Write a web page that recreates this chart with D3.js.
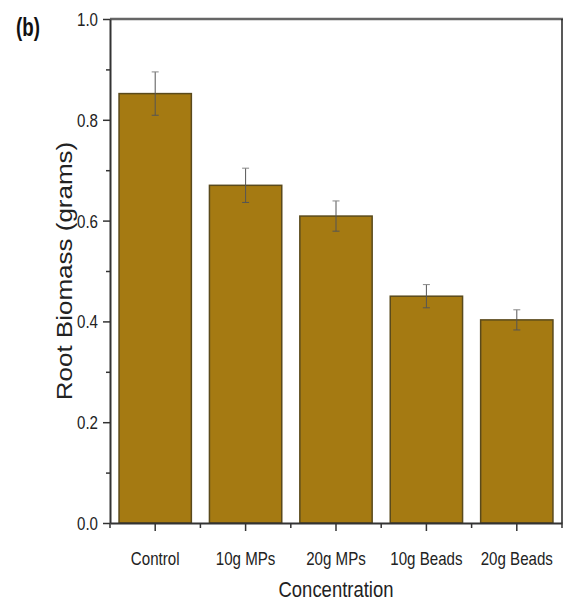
<!DOCTYPE html>
<html>
<head>
<meta charset="utf-8">
<script src="https://cdn.jsdelivr.net/npm/d3@7"></script>
<style>
  html, body { margin: 0; padding: 0; background: #fff; }
  svg { display: block; font-family: "Liberation Sans", Arial, sans-serif; }
</style>
</head>
<body>
<svg id="chart" width="568" height="605"></svg>
<script>
// Root biomass per treatment, mean and error
const categories = ["Control", "10g MPs", "20g MPs", "10g Beads", "20g Beads"];
const biomass = [0.852, 0.670, 0.609, 0.450, 0.403];
const errors = [0.043, 0.034, 0.030, 0.023, 0.020];
const yMajorTicks = [0.0, 0.2, 0.4, 0.6, 0.8, 1.0];
const yMinorTicks = [0.1, 0.3, 0.5, 0.7, 0.9];

const svg = d3.select("#chart");
const plotLeft = 110, plotRight = 562, plotTop = 19, plotBottom = 523;
const squeeze = 0.84;
const fontFamily = '"Liberation Sans", Arial, sans-serif';

const x = d3.scaleBand().domain(categories).range([plotLeft, plotRight])
  .paddingInner(0.2).paddingOuter(0.1);
const y = d3.scaleLinear().domain([0, 1]).range([plotBottom, plotTop]);

// bars
svg.append("g").selectAll("rect")
  .data(categories)
  .join("rect")
  .attr("x", d => x(d))
  .attr("y", (d, i) => y(biomass[i]))
  .attr("width", x.bandwidth())
  .attr("height", (d, i) => y(0) - y(biomass[i]))
  .attr("fill", "#A57A12")
  .attr("stroke", "#5a4a1c")
  .attr("stroke-width", 1.5);

// error bars
const eb = svg.append("g").attr("stroke", "#555").attr("stroke-width", 1);
categories.forEach((c, i) => {
  const cx = x(c) + x.bandwidth() / 2;
  const hi = y(biomass[i] + errors[i]);
  const lo = y(biomass[i] - errors[i]);
  eb.append("line").attr("x1", cx).attr("x2", cx).attr("y1", hi).attr("y2", lo);
  eb.append("line").attr("x1", cx - 3.5).attr("x2", cx + 3.5).attr("y1", hi).attr("y2", hi).attr("stroke", "#888");
  eb.append("line").attr("x1", cx - 3.5).attr("x2", cx + 3.5).attr("y1", lo).attr("y2", lo);
});

// frame: top and right edges
svg.append("line").attr("x1", plotLeft).attr("x2", plotRight + 1).attr("y1", plotTop).attr("y2", plotTop)
  .attr("stroke", "#666").attr("stroke-width", 2.5);
svg.append("line").attr("x1", plotRight).attr("x2", plotRight).attr("y1", plotTop).attr("y2", plotBottom)
  .attr("stroke", "#222").attr("stroke-width", 1.5);

// y axis
const yAxis = svg.append("g").attr("transform", `translate(${plotLeft},0)`)
  .call(d3.axisLeft(y).tickValues(yMajorTicks).tickSize(7).tickSizeOuter(0)
    .tickFormat(d3.format(".1f")))
  .attr("font-family", fontFamily);
yAxis.call(g => g.select(".domain").attr("stroke", "#333").attr("stroke-width", 2));
yAxis.selectAll(".tick line").attr("stroke", "#333").attr("stroke-width", 1.5);
yAxis.selectAll(".tick text")
  .attr("x", 0).attr("dy", "0.36em")
  .attr("transform", `translate(-12,0) scale(${squeeze},1)`)
  .attr("font-size", 18).attr("fill", "#222");
svg.append("g").attr("transform", `translate(${plotLeft},0)`)
  .call(d3.axisLeft(y).tickValues(yMinorTicks).tickSize(4).tickFormat(""))
  .call(g => g.select(".domain").remove())
  .call(g => g.selectAll(".tick line").attr("stroke", "#333").attr("stroke-width", 1.5));

// x axis
const xAxis = svg.append("g").attr("transform", `translate(0,${plotBottom})`)
  .call(d3.axisBottom(x).tickSize(8).tickSizeOuter(0))
  .attr("font-family", fontFamily);
xAxis.call(g => g.select(".domain").attr("stroke", "#333").attr("stroke-width", 2));
xAxis.selectAll(".tick line").attr("stroke", "#333").attr("stroke-width", 1.5);
xAxis.selectAll(".tick text")
  .attr("y", 0).attr("dy", 0)
  .attr("transform", `translate(0,42) scale(${squeeze},1)`)
  .attr("font-size", 18).attr("fill", "#222");
// minor ticks on category boundaries
const boundaries = categories.map(c => x(c) - x.step() * x.paddingInner() / 2).concat([plotRight]);
svg.append("g").attr("stroke", "#333").attr("stroke-width", 1.5)
  .selectAll("line").data(boundaries).join("line")
  .attr("x1", d => d).attr("x2", d => d)
  .attr("y1", plotBottom).attr("y2", plotBottom + 5);

// axis titles
svg.append("text")
  .attr("transform", `translate(${(plotLeft + plotRight) / 2},597) scale(${squeeze},1)`)
  .attr("text-anchor", "middle").attr("font-size", 22).attr("fill", "#222")
  .text("Concentration");
svg.append("text")
  .attr("transform", `translate(72,${(plotTop + plotBottom) / 2}) rotate(-90) scale(1,${squeeze})`)
  .attr("text-anchor", "middle").attr("font-size", 26).attr("fill", "#222")
  .text("Root Biomass (grams)");

// panel label
svg.append("text")
  .attr("transform", "translate(16,36) scale(0.72,1)")
  .attr("font-size", 26).attr("font-weight", "bold").attr("fill", "#111")
  .text("(b)");
</script>
</body>
</html>
